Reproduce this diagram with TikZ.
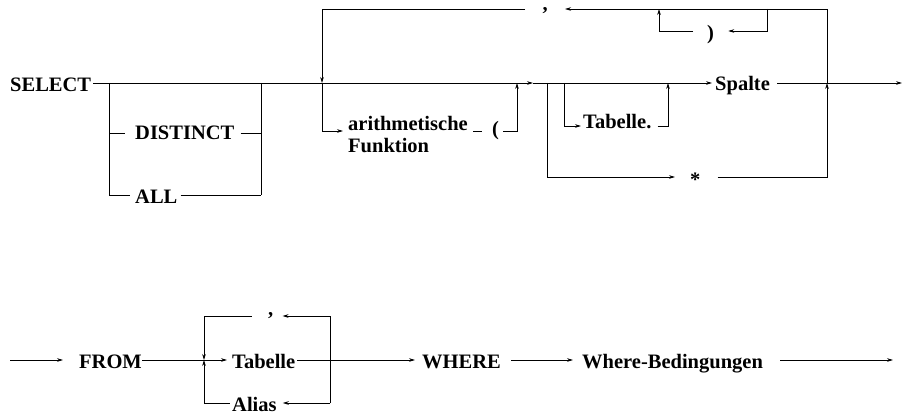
\documentclass[tikz,border=0pt]{standalone}
\usepackage{fontspec}
\setmainfont{Liberation Serif}
\usetikzlibrary{arrows.meta}
\begin{document}
\begin{tikzpicture}[x=1pt,y=-1pt,
  line/.style={line width=0.8pt, line join=miter},
  arr/.style={line, -{Stealth[length=6pt,width=3.6pt]}},
  lbl/.style={font=\fontsize{20.5}{22}\selectfont\bfseries, inner sep=0pt, anchor=base west},
]
\path[use as bounding box] (0,0) rectangle (907,414);

% ---- top row: labels
\node[lbl] (select)   at (10,91.7)  {SELECT};
\node[lbl] (distinct) at (135,140)  {DISTINCT};
\node[lbl] (all)      at (135,204)  {ALL};
\node[lbl] (arith)    at (348,131)  {arithmetische};
\node[lbl] (funk)     at (348,153)  {Funktion};
\node[lbl] (lpar)     at (492,136)  {(};
\node[lbl] (tab1)     at (583,129)  {Tabelle.};
\node[lbl] (spalte)   at (715,90.7) {Spalte};
\node[lbl] (rpar)     at (707,40)   {)};
\node[lbl] (comma1)   at (542.5,10.6) {,};
\node[lbl] (star)     at (690,187)  {*};

% ---- top row: junctions
\coordinate (a1) at (109,83);
\coordinate (a2) at (261,83);
\coordinate (a1d) at (109,133);
\coordinate (a2d) at (261,133);
\coordinate (a1l) at (109,195);
\coordinate (a2l) at (261,195);
\coordinate (b1) at (322,83);
\coordinate (b1l) at (322,131);
\coordinate (b2) at (517,83);
\coordinate (b2l) at (517,131);
\coordinate (mid) at (533,83);
\coordinate (c1) at (547,83);
\coordinate (c1l) at (547,177);
\coordinate (c2) at (564,83);
\coordinate (c2l) at (564,126);
\coordinate (c3) at (668,83);
\coordinate (c3l) at (668,126);
\coordinate (d1) at (827,83);
\coordinate (d1l) at (827,177);
\coordinate (t1) at (827,9);
\coordinate (t2) at (322,9);
\coordinate (p1) at (767,9);
\coordinate (p2) at (659,9);
\coordinate (p3) at (767,31);
\coordinate (p4) at (659,31);
\coordinate (endT) at (902,83);

% ---- top row: connectors
\draw[arr, shorten <=2pt] (select.east |- a1) -- (mid);
\draw[arr, shorten >=3pt] (mid) -- (spalte.west |- mid);
\draw[arr, shorten <=7pt] (spalte.east |- d1) -- (endT);

\draw[line] (a1) -- (a1l);
\draw[line] (a2) -- (a2l);
\draw[line, shorten >=10pt] (a1d) -- (distinct.west |- a1d);
\draw[line, shorten <=6pt] (distinct.east |- a2d) -- (a2d);
\draw[line, shorten >=5pt] (a1l) -- (all.west |- a1l);
\draw[line, shorten <=3pt] (all.east |- a2l) -- (a2l);

\draw[line] (d1) -- (t1);
\draw[arr, shorten >=17pt] (t1) -- (comma1.east |- t1);
\draw[arr, shorten <=17.5pt] (comma1.west |- t2) -- (t2) -- (b1);
\draw[arr, shorten >=5pt] (b1) -- (b1l) -- (arith.west |- b1l);
\draw[line, shorten <=5.5pt, shorten >=10pt] (arith.east |- b1l) -- (lpar.west |- b1l);
\draw[arr, shorten <=4pt] (lpar.east |- b2l) -- (b2l) -- (b2);

\draw[arr, shorten >=2pt] (c2) -- (c2l) -- (tab1.west |- c2l);
\draw[arr, shorten <=6pt] (tab1.east |- c3l) -- (c3l) -- (c3);

\draw[arr, shorten >=15pt] (c1) -- (c1l) -- (star.west |- c1l);
\draw[arr, shorten <=17pt] (star.east |- d1l) -- (d1l) -- (d1);

\draw[arr, shorten >=14pt] (p1) -- (p3) -- (rpar.east |- p3);
\draw[arr, shorten <=14pt] (rpar.west |- p4) -- (p4) -- (p2);

% ---- bottom row: labels
\node[lbl] (from)   at (79,368)  {FROM};
\node[lbl] (tab2)   at (232,368) {Tabelle};
\node[lbl] (alias)  at (232,411) {Alias};
\node[lbl] (comma2) at (268,315.5) {,};
\node[lbl] (where)  at (422,368) {WHERE};
\node[lbl] (wb)     at (582,368) {Where-Bedingungen};

% ---- bottom row: junctions
\coordinate (s0) at (10,360);
\coordinate (l1) at (204,360);
\coordinate (l1t) at (204,316);
\coordinate (l1b) at (204,403);
\coordinate (r1t) at (330,316);
\coordinate (r1b) at (330,403);
\coordinate (e2) at (893,360);

% ---- bottom row: connectors
\draw[arr, shorten >=16pt] (s0) -- (from.west |- s0);
\draw[arr, shorten >=5pt] (from.east |- s0) -- (tab2.west |- s0);
\draw[arr] (l1t) -- (l1);
\draw[arr] (l1b) -- (l1);
\draw[line, shorten >=16pt] (l1t) -- (comma2.west |- l1t);
\draw[line, shorten >=2pt] (l1b) -- (alias.west |- l1b);
\draw[arr, shorten >=9pt] (r1b) -- (r1t) -- (comma2.east |- r1t);
\draw[arr, shorten >=6pt] (r1b) -- (alias.east |- r1b);
\draw[arr, shorten <=2pt, shorten >=7pt] (tab2.east |- s0) -- (where.west |- s0);
\draw[arr, shorten <=10pt, shorten >=9pt] (where.east |- s0) -- (wb.west |- s0);
\draw[arr, shorten <=17pt] (wb.east |- s0) -- (e2);
\end{tikzpicture}
\end{document}
